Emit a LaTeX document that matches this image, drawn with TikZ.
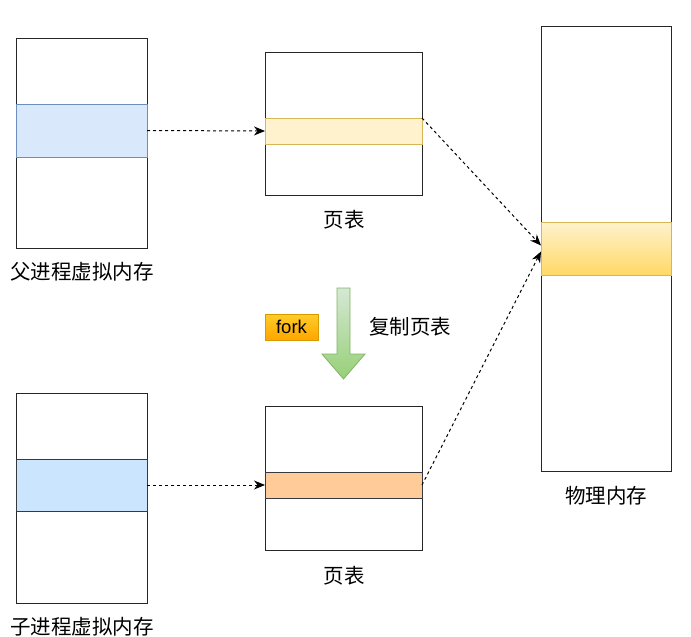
\documentclass[tikz,border=0pt]{standalone}
\usepackage{fontspec}
\setmainfont{Liberation Sans}
\newfontfamily\cjk{Noto Sans CJK SC}
\usetikzlibrary{positioning,arrows.meta}

\definecolor{vmblue}{HTML}{DAE8FC}
\definecolor{vmblueline}{HTML}{6C8EBF}
\definecolor{childblue}{HTML}{CCE5FF}
\definecolor{darkline}{HTML}{36393D}
\definecolor{pageyellow}{HTML}{FFF2CC}
\definecolor{pageyellowline}{HTML}{D6B656}
\definecolor{physgold}{HTML}{FFD966}
\definecolor{pageorange}{HTML}{FFCC99}
\definecolor{forktop}{HTML}{FFCD28}
\definecolor{forkbottom}{HTML}{FFA500}
\definecolor{forkline}{HTML}{D79B00}
\definecolor{copytop}{HTML}{D5E8D4}
\definecolor{copybottom}{HTML}{97D077}
\definecolor{copyline}{HTML}{82B366}

\begin{document}
\begin{tikzpicture}[x=1pt, y=-1pt,
    box/.style={draw=black!85, line width=1pt, fill=white, inner sep=0pt, outer sep=0pt},
    band/.style={draw, line width=0.9pt, inner sep=0pt, outer sep=0pt},
    caption/.style={font=\cjk\fontsize{20.5}{24}\selectfont, inner sep=0pt},
    link/.style={dashed, dash pattern=on 3pt off 3pt, line width=1pt,
                 -{Stealth[length=11pt, width=9pt, inset=3.5pt]}}
  ]
    \useasboundingbox (0,0) rectangle (691,637);

    % parent process
    \node[box, minimum width=131pt, minimum height=210pt] (parentvm) at (81.5,143) {};
    \node[band, fill=vmblue, draw=vmblueline, minimum width=131pt, minimum height=53pt] (parentband) at (81.5,130.5) {};
    \node[caption] (parentlabel) at (82,272) {父进程虚拟内存};

    % page table of the parent
    \node[box, minimum width=157pt, minimum height=143pt] (ptop) at (343.5,123.5) {};
    \node[band, fill=pageyellow, draw=pageyellowline, minimum width=157pt, minimum height=26pt] (ptopband) at (343.5,131) {};
    \node[caption] (ptoplabel) at (344,220) {页表};

    % physical memory
    \node[box, minimum width=130pt, minimum height=445pt] (phys) at (606,248.5) {};
    \node[band, top color=pageyellow, bottom color=physgold, draw=pageyellowline,
          minimum width=130pt, minimum height=53pt] (physband) at (606,248.5) {};
    \node[caption] (physlabel) at (606,496) {物理内存};

    % child process
    \node[box, minimum width=131pt, minimum height=210pt] (childvm) at (81.5,498) {};
    \node[band, fill=childblue, draw=darkline, minimum width=131pt, minimum height=52pt] (childband) at (81.5,485) {};
    \node[caption] (childlabel) at (82,627) {子进程虚拟内存};

    % page table of the child
    \node[box, minimum width=157pt, minimum height=144pt] (pbot) at (343.5,478) {};
    \node[band, fill=pageorange, draw=darkline, minimum width=157pt, minimum height=26pt] (pbotband) at (343.5,485) {};
    \node[caption] (pbotlabel) at (344,576) {页表};

    % fork step
    \node[draw=forkline, top color=forktop, bottom color=forkbottom, line width=0.8pt,
          minimum width=53pt, minimum height=26pt, inner sep=0pt,
          font=\fontsize{18.5}{22}\selectfont] (fork) at (291.5,327) {fork};
    \path[draw=copyline, line width=0.8pt, top color=copytop, bottom color=copybottom]
      (337,288) -- (350,288) -- (350,354) -- (365,354) -- (343.5,379)
      -- (322,354) -- (337,354) -- cycle;
    \node[caption] (copylabel) at (410,327) {复制页表};

    % mappings
    \draw[link] (parentband.east) -- (ptopband.west);
    \draw[link] (childband.east) -- (pbotband.west);
    \draw[link] (ptopband.north east) -- ([yshift=3pt]physband.west);
    \draw[link] (pbotband.east) -- ([yshift=-3pt]physband.west);
  \end{tikzpicture}
\end{document}
